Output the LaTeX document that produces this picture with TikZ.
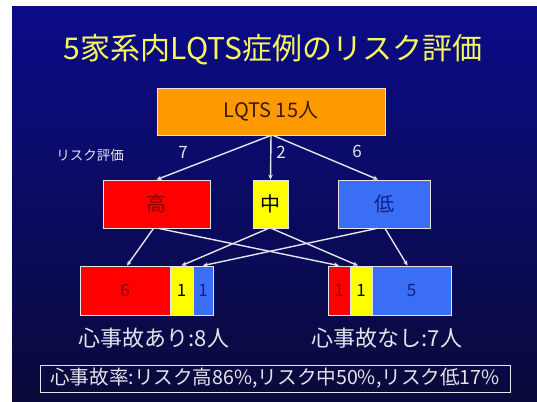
\documentclass[tikz,border=0pt]{standalone}
\usepackage{fontspec}
\setmainfont{Noto Sans CJK JP}
\usetikzlibrary{arrows.meta}
\definecolor{navyT}{HTML}{0B0B88}
\definecolor{navyB}{HTML}{0A0A3A}
\definecolor{titleY}{HTML}{F5F560}
\definecolor{orangeF}{HTML}{FF9900}
\definecolor{redF}{HTML}{FF0000}
\definecolor{yelF}{HTML}{FFFF00}
\definecolor{bluF}{HTML}{3A6EF5}
\definecolor{lineC}{HTML}{E4E4EC}
\definecolor{txtR}{HTML}{8A0000}
\definecolor{txtB}{HTML}{10208A}
\definecolor{txtO}{HTML}{3A1A00}
\begin{document}
\begin{tikzpicture}[x=1pt,y=-1pt,
  boxst/.style={draw=lineC, line width=0.8pt, inner sep=0pt, anchor=center},
  conn/.style={draw=lineC, line width=1.4pt, -{Stealth[length=5pt,width=4.5pt]}},
  wtext/.style={text=lineC, inner sep=0pt}]
\useasboundingbox (0,0) rectangle (537,401);
\fill[white] (0,0) rectangle (537,401);
\shade[top color=navyT, bottom color=navyB] (12,7) rectangle (537,401);

% title
\node[text=titleY, inner sep=0pt, xscale=1.0, font=\fontsize{30}{32}\selectfont] (title) at (273,50) {5家系内LQTS症例のリスク評価};

% top box
\node[boxst, fill=orangeF, minimum width=228pt, minimum height=47pt, text=txtO, font=\fontsize{20}{22}\selectfont] (all) at (271,111.5) {LQTS 15人};

\node[wtext, font=\fontsize{13.5}{15}\selectfont] (risk) at (90,155) {リスク評価};

% middle boxes
\node[boxst, fill=redF, minimum width=107pt, minimum height=48pt, text=txtR, font=\fontsize{20}{22}\selectfont] (hi) at (156.5,204) {高};
\node[boxst, fill=yelF, minimum width=35pt, minimum height=48pt, text=black, font=\fontsize{20}{22}\selectfont] (mid) at (270.5,204) {中};
\node[boxst, fill=bluF, minimum width=92pt, minimum height=48pt, text=txtB, font=\fontsize{20}{22}\selectfont] (lo) at (384,204) {低};

% bottom bars
\node[boxst, fill=redF, minimum width=90pt, minimum height=49pt, text=txtR, font=\fontsize{17}{18}\selectfont] (lr) at (125,290.5) {6};
\node[boxst, fill=yelF, minimum width=23pt, minimum height=49pt, text=black, font=\fontsize{17}{18}\selectfont] (ly) at (181.5,290.5) {1};
\node[boxst, fill=bluF, minimum width=20pt, minimum height=49pt, text=txtB, font=\fontsize{17}{18}\selectfont] (lb) at (203,290.5) {1};

\node[boxst, fill=redF, minimum width=22pt, minimum height=49pt, text=txtR, font=\fontsize{17}{18}\selectfont] (rr) at (339,290.5) {1};
\node[boxst, fill=yelF, minimum width=22pt, minimum height=49pt, text=black, font=\fontsize{17}{18}\selectfont] (ry) at (361,290.5) {1};
\node[boxst, fill=bluF, minimum width=79pt, minimum height=49pt, text=txtB, font=\fontsize{17}{18}\selectfont] (rb) at (411.5,290.5) {5};

% connectors top -> middle
\draw[conn] (all.south) -- (hi.north);
\draw[conn] (all.south) -- (mid.north);
\draw[conn] ([xshift=2pt]all.south) -- ([xshift=-6pt]lo.north);
\node[wtext, font=\fontsize{17}{18}\selectfont] (n7) at (183,152) {7};
\node[wtext, font=\fontsize{17}{18}\selectfont] (n2) at (281,152) {2};
\node[wtext, font=\fontsize{17}{18}\selectfont] (n6) at (357,151) {6};

% connectors middle -> bottom
\draw[conn] ([xshift=-3pt]hi.south) -- ([xshift=2pt]lr.north);
\draw[conn] ([xshift=2pt]hi.south) -- (rr.north);
\draw[conn] ([xshift=-2pt]mid.south) -- (ly.north);
\draw[conn] ([xshift=1pt]mid.south) -- ([xshift=-3pt]ry.north);
\draw[conn] ([xshift=-7pt]lo.south) -- (lb.north);
\draw[conn] ([xshift=1pt]lo.south) -- ([xshift=-4pt]rb.north);

% labels
\node[wtext, font=\fontsize{22}{24}\selectfont] (yes) at (154,338) {心事故あり:8人};
\node[wtext, font=\fontsize{22}{24}\selectfont] (no) at (387,338) {心事故なし:7人};

\node[draw=lineC, line width=1pt, minimum width=470pt, minimum height=27pt, inner sep=0pt, text=lineC, font=\fontsize{19.6}{22}\selectfont] (rate) at (275,378.5) {心事故率:リスク高86\%,リスク中50\%,リスク低17\%};
\end{tikzpicture}
\end{document}
